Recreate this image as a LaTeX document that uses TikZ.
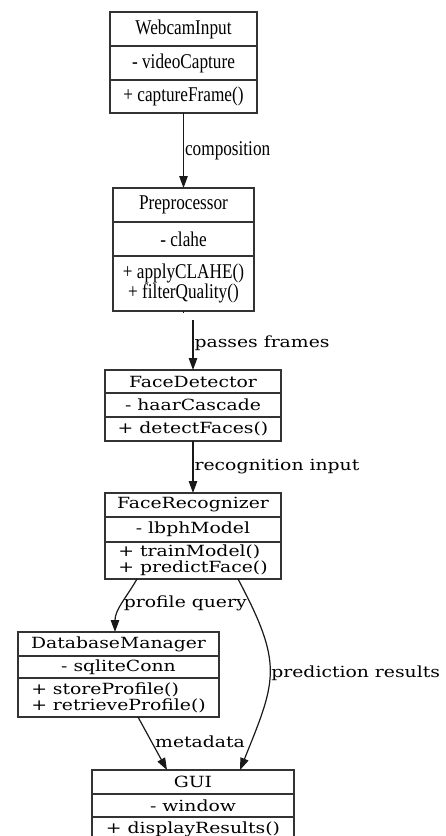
\documentclass[tikz,border=0pt]{standalone}
\usepackage{fontspec}
\usepackage{tikz}
\usetikzlibrary{positioning,arrows.meta}
\newfontfamily\dvfont[FakeStretch=1.22]{DejaVu Serif}
\newfontfamily\tmfont[FakeStretch=0.82]{Liberation Serif}
\tikzset{
  part/.style={draw=black!80, line width=1.2pt, inner sep=0pt, outer sep=0pt,
               align=center, text=black},
  dvpart/.style={part, font=\dvfont\fontsize{15.4}{16}\selectfont},
  tmpart/.style={part, font=\tmfont\fontsize{21}{20}\selectfont},
  link/.style={-{Triangle[length=12pt,width=8.5pt]}, line width=1.2pt, black!90},
  lbl/.style={inner sep=1pt, anchor=west, text=black,
              font=\dvfont\fontsize{15.4}{16}\selectfont},
  tmlbl/.style={lbl, font=\tmfont\fontsize{21}{20}\selectfont}
}

\begin{document}
\begin{tikzpicture}[x=1pt, y=1pt]
  \useasboundingbox (0,0) rectangle (446,-836);

  % webcam input
  \node[tmpart, minimum width=147, minimum height=34, anchor=north] (wc) at (183.5,-12) {WebcamInput};
  \node[tmpart, minimum width=147, minimum height=34, below=0pt of wc] (wc-a) {- videoCapture};
  \node[tmpart, minimum width=147, minimum height=33, below=0pt of wc-a] (wc-m) {+ captureFrame()};

  % preprocessor
  \node[tmpart, minimum width=141, minimum height=34, anchor=north] (pp) at (183.5,-188) {Preprocessor};
  \node[tmpart, minimum width=141, minimum height=34, below=0pt of pp] (pp-a) {- clahe};
  \node[tmpart, minimum width=141, minimum height=55, below=0pt of pp-a] (pp-m) {+ applyCLAHE()\\+ filterQuality()};

  % face detector
  \node[dvpart, minimum width=176, minimum height=23, anchor=north] (fd) at (193,-370) {FaceDetector};
  \node[dvpart, minimum width=176, minimum height=24, below=0pt of fd] (fd-a) {- haarCascade};
  \node[dvpart, minimum width=176, minimum height=24, below=0pt of fd-a] (fd-m) {+ detectFaces()};

  % face recognizer
  \node[dvpart, minimum width=176, minimum height=24, anchor=north] (fr) at (193,-493) {FaceRecognizer};
  \node[dvpart, minimum width=176, minimum height=25, below=0pt of fr] (fr-a) {- lbphModel};
  \node[dvpart, minimum width=176, minimum height=37, align=left, below=0pt of fr-a] (fr-m) {+ trainModel()\\+ predictFace()};

  % database manager
  \node[dvpart, minimum width=201, minimum height=24, anchor=north] (db) at (118.5,-632) {DatabaseManager};
  \node[dvpart, minimum width=201, minimum height=22, below=0pt of db] (db-a) {- sqliteConn};
  \node[dvpart, minimum width=201, minimum height=39, align=left, below=0pt of db-a] (db-m) {+ storeProfile()\\+ retrieveProfile()};

  % gui
  \node[dvpart, minimum width=202, minimum height=24, anchor=north] (gui) at (193,-770) {GUI};
  \node[dvpart, minimum width=202, minimum height=23, below=0pt of gui] (gui-a) {- window};
  \node[dvpart, minimum width=202, minimum height=24, below=0pt of gui-a] (gui-m) {+ displayResults()};

  % edges
  \draw[link] (wc-m.south) -- node[tmlbl, pos=0.5] {composition} (pp.north);
  \draw[line width=1.2pt, black!90] (pp-m.south) -- ++(0,-2);
  \coordinate (pf) at (193,-320);
  \draw[link] (pf) -- node[lbl, pos=0.46] {passes frames} (fd.north);
  \draw[link] (fd-m.south) -- node[lbl, pos=0.5] {recognition input} (fr.north);
  \draw[link] ([xshift=-56pt]fr-m.south) to[out=-120, in=90]
    node[lbl, pos=0.48] {profile query} ([xshift=-3.5pt]db.north);
  \draw[link] ([xshift=45pt]fr-m.south) to[out=-62, in=68, looseness=1.3]
    node[lbl, pos=0.5] {prediction results} ([xshift=47pt]gui.north);
  \draw[link] ([xshift=19.5pt]db-m.south) --
    node[lbl, pos=0.47, xshift=2pt] {metadata} ([xshift=-26pt]gui.north);
\end{tikzpicture}
\end{document}
